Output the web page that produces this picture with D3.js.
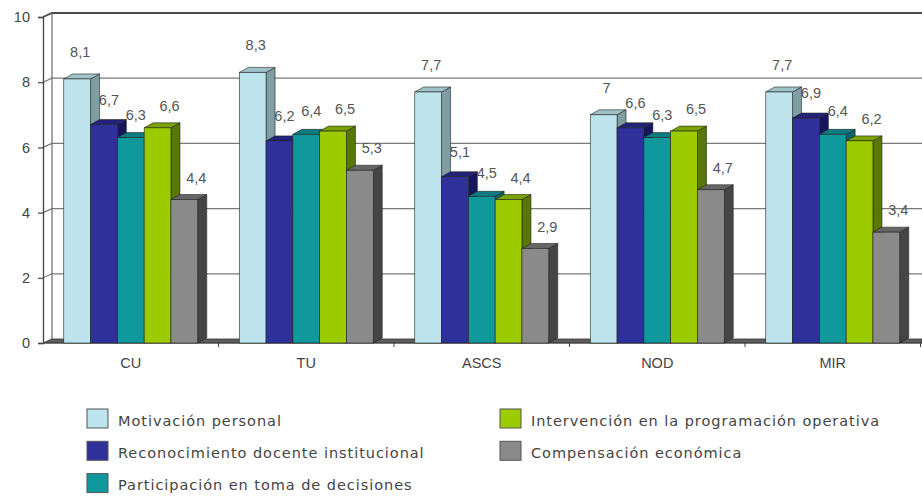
<!DOCTYPE html>
<html>
<head>
<meta charset="utf-8">
<script src="https://cdn.jsdelivr.net/npm/d3@7/dist/d3.min.js"></script>
<style>
  html, body { margin: 0; padding: 0; background: #fff; }
  svg { display: block; }
</style>
</head>
<body>
<svg id="chart" width="922" height="500"></svg>
<script>
// Categories and series
const categories = ["CU", "TU", "ASCS", "NOD", "MIR"];
const seriesNames = [
  "Motivación personal",
  "Reconocimiento docente institucional",
  "Participación en toma de decisiones",
  "Intervención en la programación operativa",
  "Compensación económica"
];
const motivacionPersonal        = [8.1, 8.3, 7.7, 7.0, 7.7];
const reconocimientoDocente     = [6.7, 6.2, 5.1, 6.6, 6.9];
const participacionDecisiones   = [6.3, 6.4, 4.5, 6.3, 6.4];
const intervencionProgramacion  = [6.6, 6.5, 4.4, 6.5, 6.2];
const compensacionEconomica     = [4.4, 5.3, 2.9, 4.7, 3.4];
const yTicks = [0, 2, 4, 6, 8, 10];

const seriesValues = [
  motivacionPersonal, reconocimientoDocente, participacionDecisiones,
  intervencionProgramacion, compensacionEconomica
];

// Face colours of each series: front, side, top
const palette = [
  { front: "#bde4ec", side: "#7f9ea3", top: "#9fc3c9" },
  { front: "#30309a", side: "#16165e", top: "#22227a" },
  { front: "#0f999d", side: "#0a6468", top: "#0c7c80" },
  { front: "#9ccc00", side: "#587800", top: "#7aa200" },
  { front: "#8a8a8a", side: "#454545", top: "#666666" }
];

// Data-label nudges per series (label sits above and toward the back of each column)
const labelDx = [3, 5, 5, 12, 12];
const labelDy = [-27, -25, -23, -22, -22];

const svg = d3.select("#chart");
const W = 922;

const x = d3.scaleBand().domain(categories).range([43, 920.5]).padding(0);
const xs = d3.scaleBand().domain(d3.range(seriesNames.length))
  .range([0, x.bandwidth()]).paddingInner(0).paddingOuter(0.775);
const y = d3.scaleLinear().domain([0, 10]).range([343, 17]);

// depth of the back wall and of the columns
const wallDx = 9, wallDy = 4;
const barDx = 9, barDy = 5;

const decimalComma = d3.formatLocale({ decimal: ",", thousands: ".", grouping: [3], currency: ["", ""] });
const fmt = v => decimalComma.format("~g")(v);

// Back wall gridlines, with the short diagonal across the side wall
const grid = svg.append("g");
yTicks.forEach(t => {
  if (t === 0) return;
  const yy = y(t);
  grid.append("path")
    .attr("d", `M${x.range()[0]},${yy} L${x.range()[0] + wallDx},${yy - wallDy} L${W},${yy - wallDy}`)
    .attr("fill", "none")
    .attr("stroke", t === 10 ? "#4a4a4a" : "#7a7a7a")
    .attr("stroke-width", t === 10 ? 1.8 : 1.2);
});

// Left edge of back wall
svg.append("line")
  .attr("x1", x.range()[0] + wallDx).attr("x2", x.range()[0] + wallDx)
  .attr("y1", y(10) - wallDy).attr("y2", y(0) - wallDy)
  .attr("stroke", "#6a6a6a").attr("stroke-width", 1.2);

// Floor slab
const fx0 = x.range()[0];
svg.append("path")
  .attr("d", `M${fx0},${y(0)} L${fx0 + wallDx},${y(0) - wallDy} L${W},${y(0) - wallDy} L${W},${y(0)} Z`)
  .attr("fill", "#5e5e5e").attr("stroke", "#333").attr("stroke-width", 0.8);

// Y axis
const yAxis = d3.axisLeft(y).tickValues(yTicks).tickSize(5).tickPadding(8).tickFormat(d3.format("d"));
svg.append("g")
  .attr("transform", `translate(${x.range()[0]},0)`)
  .call(yAxis)
  .call(g => g.select(".domain").attr("stroke", "#444").attr("stroke-width", 1.3))
  .call(g => g.selectAll(".tick line").attr("stroke", "#444").attr("stroke-width", 1.2))
  .call(g => g.selectAll(".tick text")
    .attr("font-family", "'Liberation Sans', Arial, sans-serif")
    .attr("font-size", 14.5).attr("fill", "#444"));

// X axis with ticks at category boundaries
const xAxisG = svg.append("g").attr("transform", `translate(0,${y(0)})`);
xAxisG.append("line")
  .attr("x1", x.range()[0]).attr("x2", W)
  .attr("y1", 0).attr("y2", 0)
  .attr("stroke", "#444").attr("stroke-width", 1.2);
categories.forEach((c, i) => {
  const bx = x(c) + x.bandwidth();
  xAxisG.append("line").attr("x1", bx).attr("x2", bx).attr("y1", 0).attr("y2", 4)
    .attr("stroke", "#444").attr("stroke-width", 1);
  xAxisG.append("text")
    .attr("x", x(c) + x.bandwidth() / 2)
    .attr("y", 25)
    .attr("text-anchor", "middle")
    .attr("font-family", "'Liberation Sans', Arial, sans-serif")
    .attr("font-size", 14.5).attr("fill", "#444")
    .text(c);
});

// 3D columns
const bars = svg.append("g");
categories.forEach((c, ci) => {
  seriesValues.forEach((vals, si) => {
    const v = vals[ci];
    const x0 = x(c) + xs(si);
    const x1 = x0 + xs.bandwidth();
    const yt = y(v), yb = y(0);
    const col = palette[si];
    const g = bars.append("g");
    g.append("path")
      .attr("d", `M${x1},${yt} L${x1 + barDx},${yt - barDy} L${x1 + barDx},${yb - barDy} L${x1},${yb} Z`)
      .attr("fill", col.side).attr("stroke", "#222").attr("stroke-width", 0.6);
    g.append("path")
      .attr("d", `M${x0},${yt} L${x0 + barDx},${yt - barDy} L${x1 + barDx},${yt - barDy} L${x1},${yt} Z`)
      .attr("fill", col.top).attr("stroke", "#222").attr("stroke-width", 0.6);
    g.append("rect")
      .attr("x", x0).attr("y", yt)
      .attr("width", xs.bandwidth()).attr("height", yb - yt)
      .attr("fill", col.front).attr("stroke", "#222").attr("stroke-width", 0.6);
  });
});

// Value labels
const labels = svg.append("g")
  .attr("font-family", "'Liberation Sans', Arial, sans-serif")
  .attr("font-size", 14.5).attr("fill", "#555");
categories.forEach((c, ci) => {
  seriesValues.forEach((vals, si) => {
    const v = vals[ci];
    labels.append("text")
      .attr("x", x(c) + xs(si) + xs.bandwidth() / 2 + labelDx[si])
      .attr("y", y(v) + labelDy[si])
      .attr("dy", "0.35em")
      .attr("text-anchor", "middle")
      .text(fmt(v));
  });
});

// Legend in two columns
const legendCols = [
  { x: 87, items: [0, 1, 2] },
  { x: 500, items: [3, 4] }
];
const legend = svg.append("g")
  .attr("font-family", "'DejaVu Sans', sans-serif")
  .attr("font-size", 14.5).attr("letter-spacing", 0.95).attr("fill", "#444");
legendCols.forEach(colDef => {
  colDef.items.forEach((si, ri) => {
    const top = 409 + ri * 32.3;
    legend.append("rect")
      .attr("x", colDef.x).attr("y", top)
      .attr("width", 21).attr("height", 19)
      .attr("fill", palette[si].front)
      .attr("stroke", "#555").attr("stroke-width", 1);
    legend.append("text")
      .attr("x", colDef.x + 31).attr("y", top + 16.5)
      .text(seriesNames[si]);
  });
});
</script>
</body>
</html>
